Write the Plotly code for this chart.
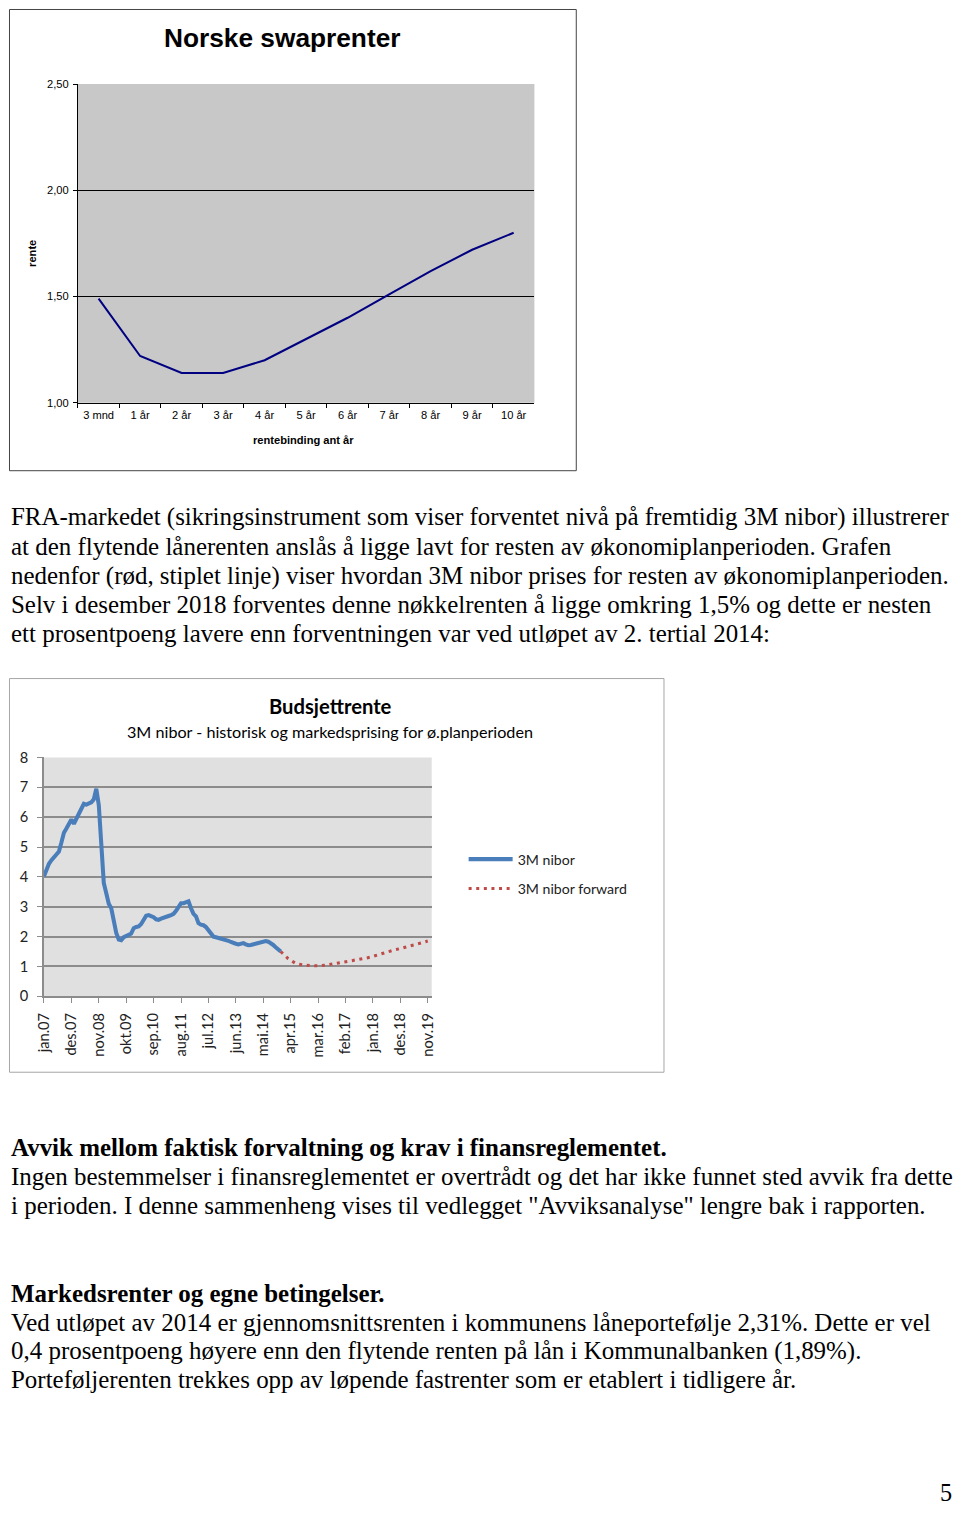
import plotly.graph_objects as go

# The browser shows the page with its default 8px body margin and the photo of the whole
# page is then fitted back into 960x1519 (a factor of about 0.9896). Positions read off the
# reference (in its pixels) are converted to figure pixels with that mapping.
W, H = 960, 1519
OFF = 8
S = 0.9896
K = 1 / S


def px(x):
    return max(x / S - OFF, 0.5) / W


def py(y):
    return 1 - max(y / S - OFF, 0.5) / H


# ---------------- Chart 1: Norske swaprenter ----------------
swap_tenors = ["3 mnd", "1 år", "2 år", "3 år", "4 år", "5 år", "6 år", "7 år", "8 år", "9 år", "10 år"]
swap_rates = [1.49, 1.22, 1.14, 1.14, 1.20, 1.30, 1.40, 1.51, 1.62, 1.72, 1.80]
swap_yticks = [1.0, 1.5, 2.0, 2.5]

# ---------------- Chart 2: Budsjettrente ----------------
nibor_start = "2007-01"
nibor_values = [
    4.02, 4.25, 4.44, 4.56, 4.66, 4.75, 4.85, 5.15, 5.48, 5.62, 5.78, 5.92,   # 2007
    5.78, 5.95, 6.15, 6.30, 6.45, 6.42, 6.47, 6.50, 6.60, 6.95, 6.40, 5.20,   # 2008
    3.80, 3.45, 3.10, 2.95, 2.45, 2.12, 1.90, 1.88, 1.98, 2.04, 2.06, 2.10,   # 2009
    2.28, 2.32, 2.34, 2.42, 2.55, 2.70, 2.72, 2.70, 2.65, 2.58, 2.56, 2.60,   # 2010
    2.64, 2.66, 2.69, 2.72, 2.76, 2.86, 3.02, 3.12, 3.12, 3.14, 3.18, 2.95,   # 2011
    2.76, 2.68, 2.45, 2.40, 2.38, 2.32, 2.22, 2.08, 2.00, 1.98, 1.96, 1.95,   # 2012
    1.93, 1.90, 1.86, 1.82, 1.78, 1.76, 1.74, 1.76, 1.78, 1.74, 1.71, 1.72,   # 2013
    1.74, 1.77, 1.81, 1.83, 1.85, 1.85, 1.83, 1.79, 1.72, 1.64, 1.56, 1.50,   # 2014
]
forward_months = ["2014-12", "2015-03", "2015-06", "2015-09", "2015-12", "2016-03", "2016-06",
                  "2016-09", "2016-12", "2017-03", "2017-06", "2017-09", "2017-12", "2018-03",
                  "2018-06", "2018-09", "2018-12", "2019-03", "2019-06", "2019-09", "2019-11"]
forward_values = [1.50, 1.26, 1.10, 1.05, 1.03, 1.02, 1.04, 1.08, 1.12, 1.16, 1.21, 1.26,
                  1.31, 1.39, 1.47, 1.54, 1.60, 1.67, 1.75, 1.81, 1.85]
month_ticks = ["jan.07", "des.07", "nov.08", "okt.09", "sep.10", "aug.11", "jul.12", "jun.13",
               "mai.14", "apr.15", "mar.16", "feb.17", "jan.18", "des.18", "nov.19"]
tick_step = 11


def month_index(s):
    return (int(s[:4]) - int(nibor_start[:4])) * 12 + int(s[5:7]) - int(nibor_start[5:7])


nibor_x = list(range(len(nibor_values)))
forward_x = [month_index(m) for m in forward_months]
tick_x = [i * tick_step for i in range(len(month_ticks))]

fig = go.Figure()

fig.add_trace(go.Scatter(
    x=swap_tenors, y=swap_rates, xaxis="x", yaxis="y", mode="lines",
    line=dict(color="#000080", width=2 * K), showlegend=False, hoverinfo="skip"))

fig.add_trace(go.Scatter(
    x=nibor_x, y=nibor_values, xaxis="x2", yaxis="y2", mode="lines", name="3M nibor",
    line=dict(color="#4A7EBB", width=4 * K), legendgroup="a"))
fig.add_trace(go.Scatter(
    x=forward_x, y=forward_values, xaxis="x2", yaxis="y2", mode="lines", name="3M nibor forward",
    line=dict(color="#BE4B48", width=3 * K, dash="3px,4.6px"), legendgroup="b"))

ARIAL = "Liberation Sans"
CAL = "Lato"
SERIF = "Liberation Serif"

shapes = [
    # chart 1 frame and plot background
    dict(type="rect", xref="paper", yref="paper", x0=px(5), x1=px(577), y0=py(470), y1=py(1),
         line=dict(color="#444444", width=1), fillcolor="rgba(0,0,0,0)", layer="below"),
    dict(type="rect", xref="x domain", yref="y domain", x0=0, x1=1, y0=0, y1=1,
         line=dict(width=0), fillcolor="#C8C8C8", layer="below"),
    # chart 2 frame and plot background
    dict(type="rect", xref="paper", yref="paper", x0=px(5), x1=px(665), y0=py(1072), y1=py(678),
         line=dict(color="#A6A6A6", width=1), fillcolor="rgba(0,0,0,0)", layer="below"),
    dict(type="rect", xref="x2 domain", yref="y2 domain", x0=0, x1=1, y0=0, y1=1,
         line=dict(width=0), fillcolor="#E0E0E0", layer="below"),
]

annotations = []


def ann(text, x, y, size, family, xanchor="left", yanchor="middle", color="#000000", angle=0):
    annotations.append(dict(text=text, x=px(x), y=py(y), xref="paper", yref="paper",
                            xanchor=xanchor, yanchor=yanchor, showarrow=False, textangle=angle,
                            font=dict(size=size * K, family=family, color=color)))


ann("<b>Norske swaprenter</b>", 282, 37, 26, ARIAL, xanchor="center")
ann("<b>rente</b>", 31, 253, 11, ARIAL, xanchor="center", angle=-90)
ann("<b>rentebinding ant år</b>", 303, 439, 11, ARIAL, xanchor="center")

ann("<b>Budsjettrente</b>", 330, 705, 20, CAL, xanchor="center")
ann("3M nibor - historisk og markedsprising for ø.planperioden", 330, 731, 16, CAL, xanchor="center")

text_lines = [
    (516, "FRA-markedet (sikringsinstrument som viser forventet nivå på fremtidig 3M nibor) illustrerer", False),
    (546, "at den flytende lånerenten anslås å ligge lavt for resten av økonomiplanperioden. Grafen", False),
    (575, "nedenfor (rød, stiplet linje) viser hvordan 3M nibor prises for resten av økonomiplanperioden.", False),
    (604, "Selv i desember 2018 forventes denne nøkkelrenten å ligge omkring 1,5% og dette er nesten", False),
    (633, "ett prosentpoeng lavere enn forventningen var ved utløpet av 2. tertial 2014:", False),
    (1147, "Avvik mellom faktisk forvaltning og krav i finansreglementet.", True),
    (1176, "Ingen bestemmelser i finansreglementet er overtrådt og det har ikke funnet sted avvik fra dette", False),
    (1205, "i perioden. I denne sammenheng vises til vedlegget \"Avviksanalyse\" lengre bak i rapporten.", False),
    (1293, "Markedsrenter og egne betingelser.", True),
    (1322, "Ved utløpet av 2014 er gjennomsnittsrenten i kommunens låneportefølje 2,31%. Dette er vel", False),
    (1351, "0,4 prosentpoeng høyere enn den flytende renten på lån i Kommunalbanken (1,89%).", False),
    (1380, "Porteføljerenten trekkes opp av løpende fastrenter som er etablert i tidligere år.", False),
]
for y, t, bold in text_lines:
    ann(f"<b>{t}</b>" if bold else t, 3, y, 24.7, SERIF)

ann("5", 948, 1508, 24, SERIF, xanchor="center", yanchor="bottom")

fig.update_layout(
    width=W, height=H,
    margin=dict(l=0, r=0, t=0, b=0),
    paper_bgcolor="white", plot_bgcolor="rgba(0,0,0,0)",
    separators=", ",
    shapes=shapes, annotations=annotations,
    xaxis=dict(domain=[px(77), px(535)], anchor="y", type="category", range=[-0.5, 10.5],
               tickson="boundaries", ticks="outside", ticklen=4, tickcolor="#000000",
               showline=True, linecolor="#000000", linewidth=1, showgrid=False,
               tickfont=dict(size=11 * K, family=ARIAL, color="#000000"), ticklabelstandoff=2),
    yaxis=dict(domain=[py(402), py(83)], anchor="x", range=[1.0, 2.5], tickvals=swap_yticks,
               tickformat=".2f", ticks="outside", ticklen=4, tickcolor="#000000",
               showline=True, linecolor="#000000", linewidth=1, showgrid=True,
               gridcolor="#000000", gridwidth=1, zeroline=False,
               tickfont=dict(size=11 * K, family=ARIAL, color="#000000"), ticklabelstandoff=2),
    xaxis2=dict(domain=[px(43), px(432)], anchor="y2", range=[0, 155.6], tickvals=tick_x,
                ticktext=month_ticks, tickangle=-90, ticks="outside", ticklen=5,
                tickcolor="#8C8C8C", showline=True, linecolor="#8C8C8C", linewidth=1.5,
                showgrid=False, zeroline=False, ticklabelstandoff=4,
                tickfont=dict(size=14.5 * K, family=CAL, color="#222222")),
    yaxis2=dict(domain=[py(996), py(757)], anchor="x2", range=[0, 8], dtick=1,
                ticks="outside", ticklen=5, tickcolor="#8C8C8C", showline=True,
                linecolor="#8C8C8C", linewidth=1.5, showgrid=True, gridcolor="#8C8C8C",
                gridwidth=1.5, zeroline=False, ticklabelstandoff=6,
                tickfont=dict(size=14.5 * K, family=CAL, color="#222222")),
    legend=dict(x=px(464), y=py(843), xanchor="left", yanchor="top", bgcolor="rgba(0,0,0,0)",
                font=dict(size=14 * K, family=CAL, color="#222222"), tracegroupgap=8,
                itemwidth=44),
    hovermode=False,
)

fig.write_html("out.html")
